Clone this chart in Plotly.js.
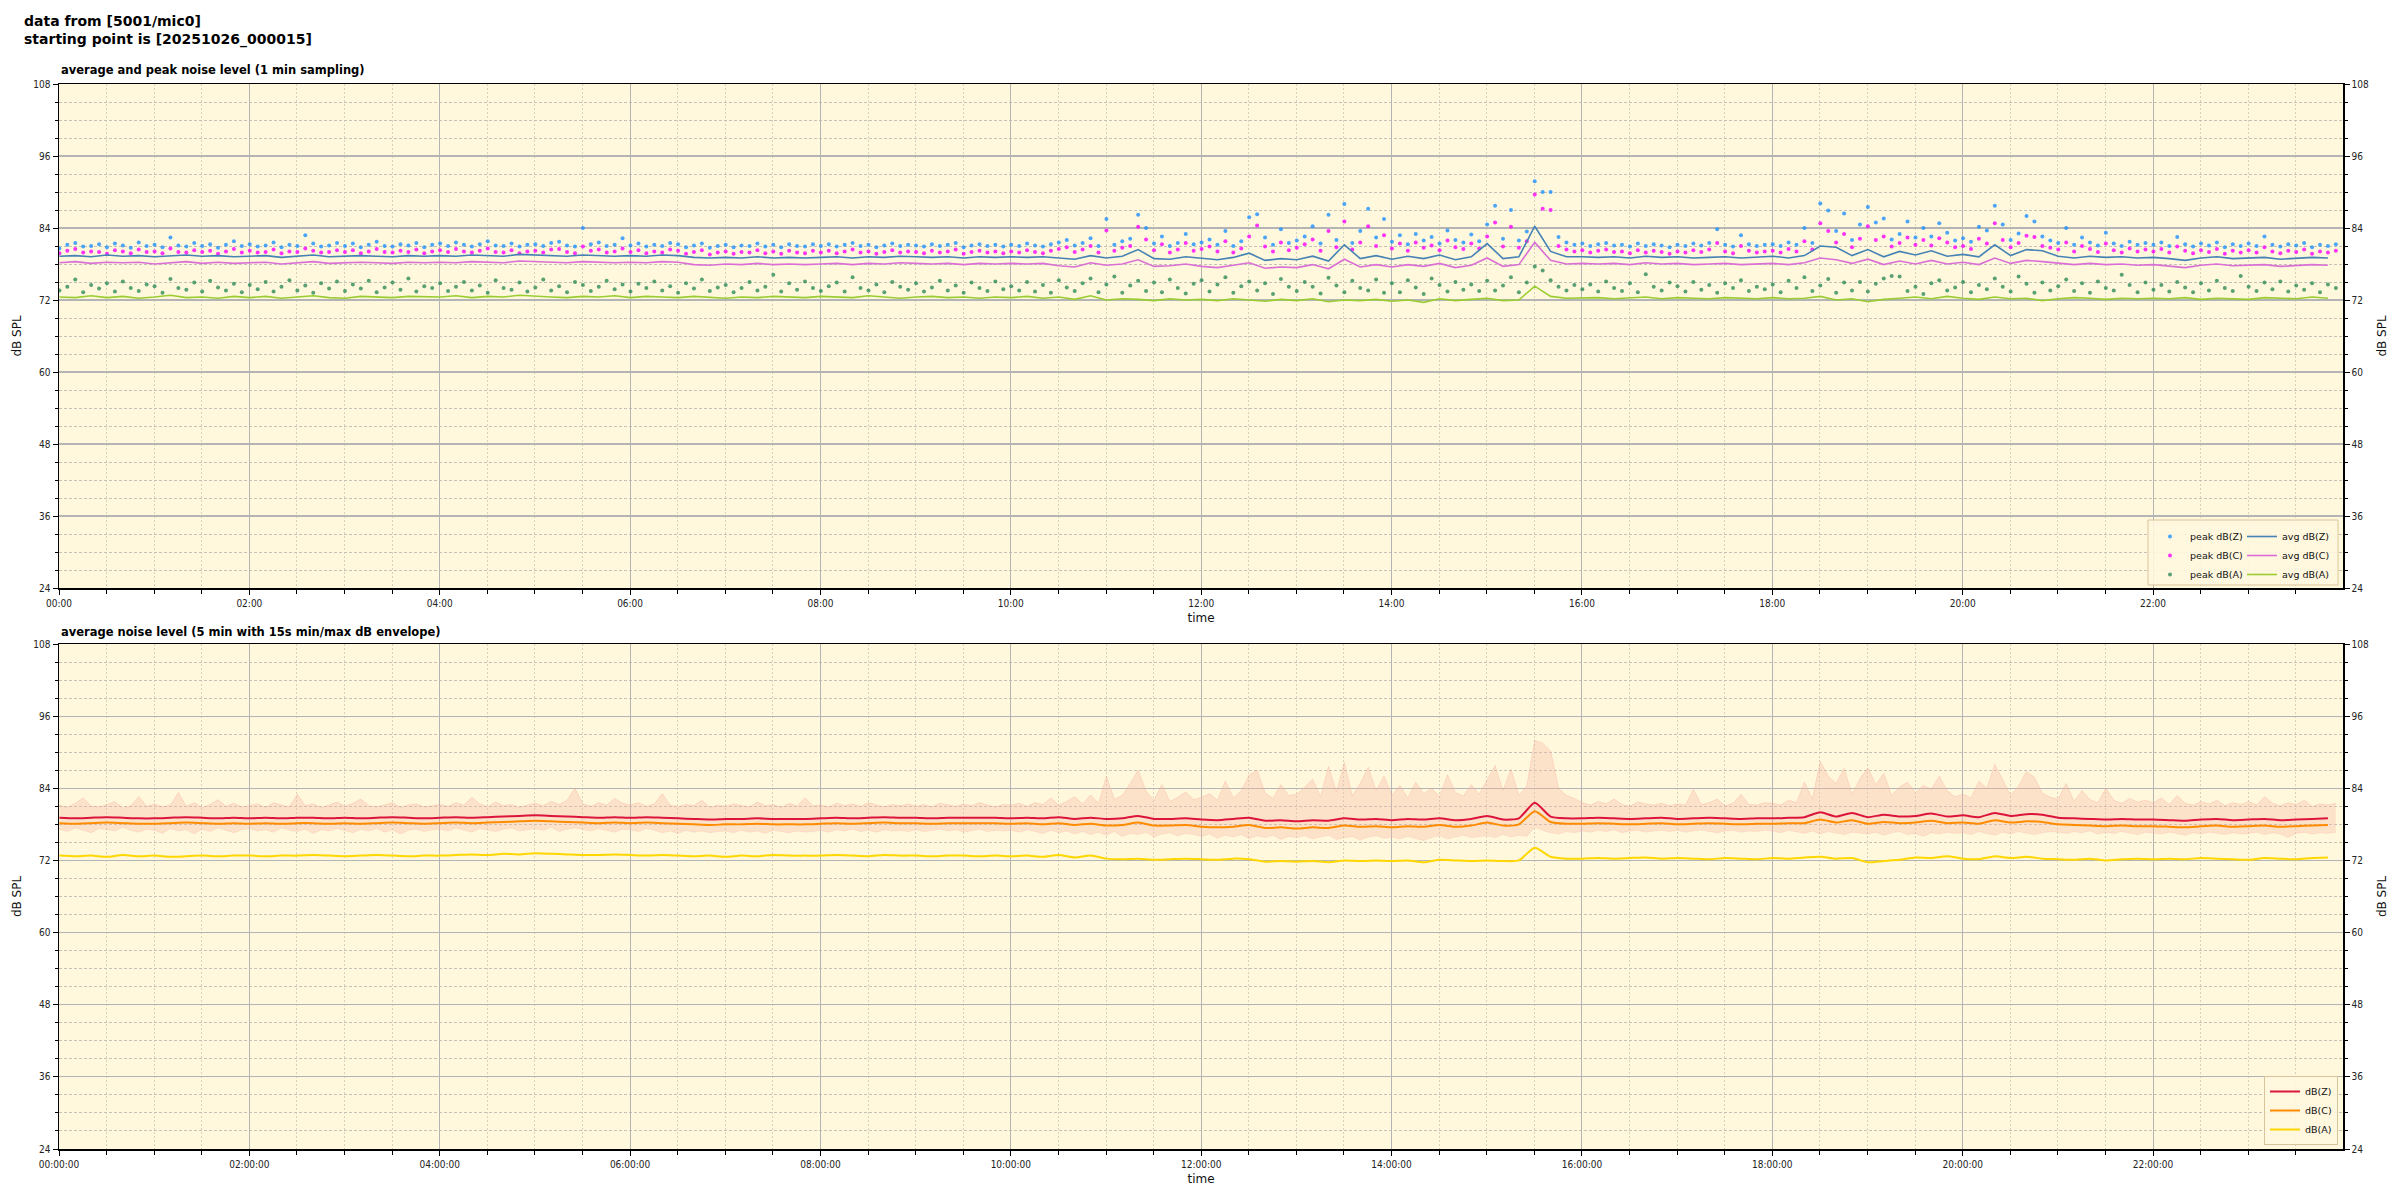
<!DOCTYPE html>
<html>
<head>
<meta charset="utf-8">
<script src="https://cdn.plot.ly/plotly-3.0.1.min.js"></script>
<style>html,body{margin:0;padding:0;background:#fff;}#chart{width:2400px;height:1200px;}</style>
</head>
<body>
<div id="chart"></div>
<script>
// ---------- data ----------
// top plot: 10-min averages (144 values, 00:00 -> 23:50)
const avgZ = [
79.3,79.4,79.2,79.5,79.3,79.4,79.2,79.3,79.5,79.3,79.4,79.2,
79.3,79.4,79.1,79.3,79.5,79.2,79.3,79.4,79.3,79.2,79.4,79.3,
79.4,79.3,79.5,79.4,79.3,79.6,79.5,79.4,79.3,79.5,79.4,79.3,
79.4,79.3,79.5,79.4,79.1,79.0,79.1,79.0,79.2,79.0,79.1,79.0,
79.1,79.2,79.0,79.2,79.1,79.3,79.2,79.1,79.2,79.0,79.2,79.1,
79.2,79.1,79.2,79.0,78.8,79.4,79.0,79.3,80.4,78.9,78.8,79.2,
78.9,78.7,79.1,79.8,78.6,78.9,78.7,79.3,78.5,81.2,78.9,79.4,
78.8,79.3,78.9,79.5,78.7,79.2,81.4,78.9,79.2,84.3,80.1,79.2,
79.2,79.1,79.2,79.0,79.3,79.1,79.2,79.0,79.1,79.2,79.0,79.1,
79.3,79.0,79.4,81.0,80.8,79.4,80.4,79.2,80.1,79.5,80.2,79.3,
79.6,79.2,81.2,79.4,80.4,80.2,79.3,79.0,79.3,79.1,79.2,79.0,
79.1,78.9,78.6,79.0,79.2,78.9,79.0,79.1,78.8,79.0,79.1,79.0];
const avgC = [
78.2,78.4,78.1,78.3,78.2,78.3,78.0,78.2,78.4,78.1,78.3,78.1,
78.2,78.3,78.0,78.2,78.4,78.1,78.2,78.3,78.2,78.1,78.3,78.2,
78.3,78.2,78.4,78.3,78.2,78.5,78.4,78.3,78.2,78.4,78.3,78.2,
78.3,78.2,78.4,78.3,77.9,77.8,78.0,77.9,78.1,77.9,78.0,77.9,
78.0,78.1,77.9,78.1,78.0,78.2,78.1,78.0,78.1,77.9,78.1,78.0,
78.1,78.0,78.1,77.7,77.5,78.2,77.8,78.0,78.7,77.6,77.7,78.0,
77.6,77.4,77.8,78.2,77.3,77.5,77.4,77.9,77.2,78.8,77.5,77.9,
77.5,77.9,77.6,78.1,77.4,77.8,79.0,77.6,77.9,81.6,78.6,78.0,
78.1,78.0,78.1,77.9,78.2,78.0,78.1,77.9,78.0,78.1,77.9,78.0,
78.1,77.9,78.2,79.0,78.7,78.1,78.8,77.9,78.5,78.0,78.6,78.0,
78.3,77.9,79.0,78.1,78.6,78.4,78.1,77.9,78.1,77.9,78.0,77.8,
77.9,77.7,77.4,77.8,78.0,77.7,77.8,77.9,77.6,77.8,77.9,77.8];
const avgA = [
72.5,72.4,72.7,72.4,72.6,72.3,72.5,72.8,72.4,72.5,72.3,72.6,
72.4,72.6,72.3,72.5,72.7,72.4,72.3,72.6,72.5,72.4,72.6,72.5,
72.5,72.7,72.4,72.6,72.5,72.8,72.6,72.5,72.4,72.6,72.5,72.7,
72.4,72.6,72.5,72.4,72.6,72.5,72.3,72.5,72.4,72.6,72.5,72.4,
72.6,72.5,72.4,72.7,72.5,72.3,72.5,72.6,72.4,72.5,72.3,72.5,
72.4,72.6,72.3,72.5,72.1,72.7,72.0,72.2,72.1,71.9,72.2,72.0,
72.1,71.9,72.2,72.0,71.8,72.1,71.9,72.2,71.7,72.0,71.9,72.1,
71.8,72.0,71.6,72.2,71.9,72.1,72.3,71.9,72.0,74.3,72.6,72.3,
72.3,72.4,72.2,72.3,72.5,72.2,72.4,72.3,72.2,72.4,72.3,72.2,
72.4,72.2,72.3,72.6,72.0,72.2,71.7,72.1,72.3,72.5,72.2,72.6,
72.3,72.1,72.5,72.2,72.3,71.9,72.2,72.4,72.3,72.1,72.3,72.2,
72.3,72.2,72.4,72.1,72.3,72.2,72.1,72.4,72.3,72.2,72.5,72.3];

// top plot: peaks every 5 min (288 values, one row per hour)
const peakZ = [
80.6,81.2,81.5,80.9,81.0,81.3,80.8,81.4,81.1,80.7,81.6,81.0,
81.2,80.8,82.4,81.1,80.9,81.5,81.0,81.3,80.7,81.2,81.8,81.0,
81.3,80.9,81.1,81.6,80.8,81.2,81.0,82.8,81.4,80.9,81.1,81.5,
81.0,81.4,80.8,81.2,81.7,81.0,80.9,81.3,81.1,81.5,80.8,81.2,
81.4,81.0,81.6,81.2,80.9,81.3,81.8,81.1,81.0,81.4,80.9,81.2,
81.3,81.0,81.5,81.7,81.1,80.9,84.0,81.3,81.6,81.0,81.2,82.3,
81.1,81.4,80.9,81.2,81.0,81.5,81.3,80.8,81.1,81.4,80.7,81.0,
81.2,80.8,81.1,81.0,81.4,80.9,81.2,80.8,81.3,81.0,80.9,81.3,
81.0,81.3,80.9,81.2,81.5,81.0,81.2,80.8,81.1,81.4,81.0,81.2,
81.1,80.9,81.3,81.0,81.2,81.5,80.8,81.1,81.3,81.0,81.2,80.9,
81.2,81.0,81.4,81.1,80.9,81.3,81.6,82.0,81.1,81.5,82.3,81.0,
85.5,81.2,81.8,82.2,86.2,84.0,81.4,82.6,81.0,81.5,83.0,81.3,
81.6,82.1,81.2,83.5,81.0,81.8,85.8,86.3,82.4,81.2,83.8,81.5,
81.9,82.6,84.3,81.4,86.2,82.0,88.0,81.5,83.5,87.2,82.4,85.5,
81.7,82.8,81.3,83.0,81.9,82.5,81.4,83.6,82.0,81.6,82.9,81.8,
84.6,87.7,82.2,87.0,81.9,83.4,91.8,90.0,90.0,82.5,81.6,81.2,
81.4,81.0,81.3,81.5,81.1,81.2,80.9,81.4,81.0,81.3,81.1,80.8,
81.2,81.0,81.4,81.1,81.5,83.8,81.2,80.9,82.8,81.3,81.0,81.2,
81.3,81.0,81.6,81.2,84.0,81.5,88.1,86.9,83.5,86.4,82.0,84.6,
87.5,84.9,85.6,82.1,83.0,85.1,82.4,84.0,82.6,84.8,83.2,81.9,
82.3,81.7,84.2,83.6,87.7,84.6,82.0,83.1,86.0,85.1,82.6,81.9,
81.5,84.0,81.2,82.4,81.6,81.1,83.2,81.4,81.0,81.7,81.2,81.5,
81.2,81.6,81.0,82.5,81.3,80.9,81.4,81.1,81.6,80.8,81.3,81.0,
81.4,81.0,82.6,81.2,80.9,81.3,81.1,81.5,80.8,81.2,81.0,81.3];
const peakC = [
79.8,80.2,80.5,79.9,80.1,80.0,79.7,80.3,80.1,79.8,80.4,80.0,
80.1,79.8,80.6,80.0,79.9,80.3,80.0,80.2,79.7,80.1,80.5,79.9,
80.2,79.9,80.0,80.4,79.8,80.1,80.0,80.6,80.2,79.9,80.0,80.3,
80.0,80.3,79.8,80.1,80.5,80.0,79.9,80.2,80.0,80.4,79.8,80.1,
80.3,80.0,80.5,80.1,79.9,80.2,80.6,80.0,79.9,80.3,79.8,80.1,
80.2,79.9,80.4,80.5,80.0,79.8,80.9,80.2,80.4,79.9,80.1,80.6,
80.0,80.3,79.8,80.1,79.9,80.4,80.2,79.7,80.0,80.3,79.6,79.9,
80.1,79.7,80.0,79.9,80.3,79.8,80.1,79.7,80.2,79.9,79.8,80.2,
79.9,80.2,79.8,80.1,80.4,79.9,80.1,79.7,80.0,80.3,79.9,80.1,
80.0,79.8,80.2,79.9,80.1,80.4,79.7,80.0,80.2,79.9,80.1,79.8,
80.1,79.9,80.3,80.0,79.8,80.2,80.5,80.8,80.0,80.4,81.0,79.9,
83.6,80.2,80.7,81.0,84.2,82.1,80.3,81.3,79.9,80.4,81.5,80.2,
80.5,80.9,80.1,81.8,79.9,80.6,82.6,84.4,80.9,80.1,81.6,80.3,
80.7,81.3,82.1,80.2,83.5,80.8,85.1,80.4,81.6,84.3,81.0,82.8,
80.6,81.4,80.2,81.6,80.7,81.1,80.3,81.9,80.8,80.5,81.4,80.6,
82.6,84.9,80.9,84.2,80.7,81.8,89.6,87.2,87.0,81.0,80.4,80.1,
80.3,79.9,80.2,80.4,80.0,80.1,79.8,80.3,79.9,80.2,80.0,79.7,
80.1,79.9,80.3,80.0,80.4,81.5,80.1,79.8,81.0,80.2,79.9,80.1,
80.2,79.9,80.5,80.1,81.8,80.4,84.8,83.5,81.6,83.0,80.8,82.2,
84.3,82.0,82.6,80.9,81.5,82.4,81.2,82.0,81.1,82.3,81.6,80.8,
81.0,80.5,82.2,81.4,84.8,82.0,80.8,81.5,82.7,82.5,81.0,80.7,
80.4,81.6,80.1,81.0,80.5,80.0,81.4,80.3,79.9,80.6,80.1,80.4,
80.1,80.5,79.9,80.9,80.2,79.8,80.3,80.0,80.5,79.7,80.2,79.9,
80.3,79.9,80.8,80.1,79.8,80.2,80.0,80.4,79.7,80.1,79.9,80.2];
const peakA = [
73.6,74.2,75.4,73.3,74.5,73.9,74.8,73.4,75.1,74.0,73.5,74.6,
74.3,73.2,75.5,74.0,73.7,74.9,73.4,75.2,74.1,73.6,74.7,73.3,
74.5,73.8,75.0,73.4,74.2,75.3,73.6,74.4,73.2,74.8,73.9,75.1,
73.5,74.6,73.9,75.2,73.3,74.1,74.9,73.7,75.6,73.4,74.3,74.0,
74.8,73.5,74.2,75.0,73.6,74.4,73.2,75.3,74.0,73.7,74.9,73.4,
74.1,75.4,73.6,74.3,73.3,75.0,74.5,73.5,74.2,75.2,73.8,74.6,
73.4,74.7,74.0,75.1,73.6,74.3,73.2,74.8,73.9,75.4,73.5,74.1,
74.5,73.3,74.0,75.0,73.6,74.2,76.2,73.4,74.8,73.7,75.1,74.0,
73.5,74.3,74.9,73.4,75.8,74.0,73.6,74.6,73.3,75.0,74.2,73.7,
74.8,73.4,74.1,75.2,73.6,74.4,73.2,74.9,74.0,73.5,75.1,73.8,
74.3,73.6,75.0,73.4,74.5,73.2,75.3,74.1,73.5,74.8,75.6,73.3,
74.6,75.9,73.2,74.4,75.2,73.5,74.9,73.3,75.4,74.0,73.1,74.7,
75.3,73.4,74.6,75.8,73.2,74.3,75.1,73.6,74.8,73.0,75.5,74.2,
73.5,75.0,74.2,73.1,75.7,74.4,73.3,75.2,74.0,73.6,75.4,73.2,
74.8,73.3,75.3,74.1,73.0,75.6,74.5,73.4,75.0,73.7,74.6,73.5,
75.2,73.6,74.4,75.8,73.3,74.9,77.6,76.9,75.3,74.2,73.6,74.5,
73.8,74.6,73.4,75.1,74.0,73.5,74.8,73.3,76.3,74.2,73.6,74.9,
74.3,73.4,75.0,73.7,74.5,73.2,74.8,74.0,75.3,73.5,74.2,73.8,
74.6,73.3,75.2,74.0,75.8,73.5,74.4,75.5,73.2,74.9,73.6,75.0,
73.4,74.7,75.6,76.0,75.9,73.5,74.2,73.0,74.8,75.3,73.6,74.1,
75.0,73.3,74.5,73.8,75.6,74.2,73.4,75.9,74.7,73.2,74.9,73.6,
74.3,75.4,73.5,74.8,73.2,75.1,74.0,73.6,76.2,74.5,73.3,74.9,
73.7,74.5,73.4,75.0,74.1,73.3,74.8,73.6,75.2,74.0,73.5,76.0,
74.2,73.5,74.9,73.8,75.1,73.4,74.4,73.7,74.8,73.3,74.6,74.0];

// bottom plot: 5-min averages, sampled every 10 min (144 values)
const levelZ = [
79.1,79.0,79.1,79.2,79.1,79.0,79.0,79.1,79.2,79.1,79.0,79.1,
79.0,79.1,79.0,79.1,79.1,79.0,79.1,79.0,79.1,79.2,79.1,79.0,
79.1,79.2,79.1,79.2,79.3,79.4,79.5,79.4,79.3,79.2,79.1,79.2,
79.1,79.2,79.1,79.0,78.9,78.8,78.9,78.9,79.0,78.9,78.9,78.9,
79.0,79.1,79.0,79.1,79.2,79.1,79.1,79.0,79.1,79.1,79.1,79.1,
79.0,79.1,79.0,79.2,78.9,79.1,78.9,79.0,79.4,78.9,78.9,79.0,
78.8,78.7,78.9,79.1,78.6,78.7,78.5,78.7,78.6,79.0,78.8,78.9,
78.7,78.9,78.8,79.0,78.7,78.9,79.4,78.8,79.0,81.6,79.3,79.0,
79.0,79.1,79.0,78.9,79.0,79.1,78.9,79.0,79.1,79.0,78.9,79.0,
79.0,79.1,79.2,80.0,79.3,79.9,79.2,79.6,79.3,79.4,79.8,79.3,
79.5,79.2,79.9,79.4,79.7,79.6,79.1,79.0,78.9,78.8,78.9,78.8,
78.8,78.7,78.6,78.8,78.9,78.7,78.8,78.9,78.7,78.8,78.9,79.0];
const levelC = [
78.2,78.1,78.2,78.3,78.2,78.1,78.1,78.2,78.3,78.2,78.1,78.2,
78.1,78.2,78.1,78.2,78.2,78.1,78.2,78.1,78.2,78.3,78.2,78.1,
78.2,78.3,78.2,78.3,78.4,78.5,78.6,78.5,78.4,78.3,78.2,78.3,
78.2,78.3,78.2,78.1,78.0,77.9,78.0,78.0,78.1,78.0,78.0,78.0,
78.1,78.2,78.1,78.2,78.3,78.2,78.2,78.1,78.2,78.2,78.2,78.2,
78.1,78.2,78.0,78.2,77.9,78.1,77.8,77.9,78.3,77.8,77.8,77.9,
77.6,77.5,77.6,77.9,77.4,77.5,77.3,77.5,77.4,77.8,77.6,77.7,
77.5,77.7,77.6,77.9,77.6,77.8,78.3,77.8,78.0,80.2,78.4,78.1,
78.1,78.2,78.1,78.0,78.1,78.2,78.0,78.1,78.2,78.1,78.0,78.1,
78.1,78.2,78.2,78.8,78.3,78.7,78.1,78.4,78.2,78.3,78.6,78.2,
78.3,78.1,78.7,78.3,78.5,78.4,78.0,77.9,77.8,77.7,77.8,77.7,
77.7,77.6,77.5,77.7,77.8,77.6,77.7,77.8,77.6,77.7,77.8,77.9];
const levelA = [
72.8,72.7,72.8,72.6,72.9,72.7,72.8,72.6,72.7,72.8,72.7,72.8,
72.8,72.7,72.8,72.8,72.9,72.8,72.7,72.8,72.9,72.8,72.7,72.8,
72.8,72.9,73.0,72.9,73.1,73.0,73.2,73.1,73.0,72.9,72.9,73.0,
72.9,72.8,72.9,72.8,72.7,72.8,72.6,72.8,72.7,72.9,72.8,72.8,
72.8,72.9,72.8,72.7,72.9,72.8,72.8,72.7,72.8,72.8,72.7,72.8,
72.7,72.8,72.6,72.9,72.5,72.8,72.3,72.2,72.3,72.1,72.2,72.3,
72.2,72.1,72.3,72.2,71.8,71.9,71.8,71.9,71.7,72.0,71.9,72.0,
71.9,72.0,71.7,72.1,72.0,71.9,72.0,71.9,72.0,74.1,72.6,72.3,
72.3,72.4,72.3,72.4,72.5,72.3,72.4,72.3,72.2,72.4,72.3,72.2,
72.4,72.3,72.5,72.6,72.3,72.4,71.7,71.9,72.1,72.5,72.4,72.7,
72.3,72.2,72.7,72.4,72.6,72.3,72.2,72.1,72.3,72.0,72.2,72.3,
72.2,72.3,72.2,72.4,72.3,72.2,72.1,72.4,72.3,72.2,72.4,72.5];

// bottom plot: 15 s max / min envelope, summarised every 5 min (288 values)
const envMax = [
81.2,80.8,81.5,82.4,81.0,80.9,81.3,81.8,80.7,81.1,82.6,81.0,
81.4,80.9,81.2,83.3,81.0,81.6,80.8,81.3,82.1,81.0,81.5,80.9,
81.1,81.4,80.8,81.6,81.2,80.9,83.0,81.1,81.4,80.8,81.2,81.7,
81.0,81.5,82.2,81.1,80.9,81.3,81.6,80.8,81.2,81.4,80.9,81.1,
81.3,81.0,81.6,81.2,82.5,81.4,80.9,81.7,81.1,81.3,80.8,81.2,
81.5,81.1,81.8,81.3,82.0,84.0,81.4,81.0,81.6,81.2,82.3,81.5,
81.2,81.6,81.0,81.4,83.1,81.2,80.9,81.3,81.1,82.0,80.8,81.2,
81.0,81.4,81.2,80.9,81.7,81.1,81.3,80.8,81.5,81.0,82.4,81.1,
81.2,80.9,81.5,81.1,81.4,81.0,81.6,81.2,80.9,81.3,81.1,81.4,
81.0,81.3,80.9,81.5,81.2,81.0,81.4,81.1,81.6,81.2,80.9,81.3,
81.2,81.5,81.0,81.6,81.3,82.4,81.2,81.8,82.6,81.4,82.9,81.5,
86.0,82.2,82.8,84.8,87.0,83.5,82.0,84.6,81.8,82.5,83.4,82.1,
82.5,83.1,82.0,85.2,82.4,83.6,86.2,87.0,83.2,82.3,84.6,82.8,
83.0,84.2,85.5,82.6,87.6,83.4,88.3,82.7,84.8,87.5,83.6,86.0,
82.8,84.5,82.4,85.0,83.1,84.0,82.6,86.2,83.3,82.7,84.6,83.0,
85.5,87.8,83.6,87.2,82.8,84.4,92.0,91.5,90.2,84.0,82.8,82.3,
81.6,81.2,81.8,81.4,82.2,81.3,81.0,81.7,81.4,81.2,81.5,81.1,
81.4,81.2,83.8,81.3,81.6,82.2,81.1,81.5,83.0,81.3,81.2,81.6,
81.5,81.2,82.0,81.6,85.0,82.2,88.5,86.0,84.8,87.3,83.0,85.6,
87.4,84.6,86.5,82.8,84.2,85.0,83.3,84.5,83.8,86.0,83.6,82.6,
83.0,82.4,85.2,84.0,88.0,85.4,82.8,84.4,86.8,85.8,83.2,82.5,
82.2,84.8,81.8,83.6,82.1,81.6,84.0,82.0,81.5,82.3,81.7,82.0,
81.6,82.4,81.3,82.8,81.5,81.2,81.8,81.4,82.0,81.1,81.6,81.3,
81.8,81.2,82.6,81.5,81.1,81.6,81.3,82.0,81.0,81.4,81.2,81.5];
const envMin = [
77.2,76.8,77.4,77.0,76.6,77.3,77.1,76.9,77.5,77.0,76.7,77.2,
77.0,76.5,77.3,76.9,77.1,76.4,77.2,76.8,77.4,77.0,76.6,77.1,
77.3,76.9,77.1,76.7,77.4,77.0,76.8,77.2,76.5,77.1,76.9,77.3,
77.0,76.6,77.2,76.9,77.3,76.7,77.1,76.4,77.0,77.2,76.8,77.1,
77.2,76.9,77.4,77.0,76.7,77.3,77.1,76.8,77.2,77.4,76.9,77.1,
77.3,77.0,77.5,76.8,77.2,77.4,77.1,76.9,77.3,77.0,76.7,77.2,
77.1,76.8,77.3,77.0,76.6,76.9,76.5,77.0,76.7,76.9,76.6,76.8,
76.9,76.6,77.0,76.7,76.9,76.5,77.0,76.8,76.6,76.9,76.7,76.8,
77.0,76.7,77.1,76.9,77.2,76.8,77.0,76.7,77.1,76.9,77.0,76.8,
77.1,76.8,77.0,77.2,76.9,77.1,76.7,77.0,77.2,76.8,77.0,76.9,
77.0,76.7,77.1,76.8,76.5,77.0,76.6,76.9,76.4,76.8,76.3,76.7,
76.2,76.8,76.0,76.5,76.3,76.7,75.9,76.4,76.6,76.1,76.5,76.3,
76.0,76.4,75.7,76.2,75.9,76.3,75.6,76.1,75.8,76.2,75.5,76.0,
75.8,76.1,75.6,75.9,76.2,75.5,75.8,76.0,75.4,75.9,76.1,75.7,
75.9,75.6,76.0,75.7,75.3,75.8,76.1,75.6,75.9,76.2,75.8,76.0,
76.1,75.8,76.3,75.9,76.2,76.0,77.5,77.0,76.6,76.4,76.8,76.6,
76.9,76.7,77.0,76.8,77.1,76.6,76.9,77.0,76.7,76.9,77.0,76.8,
77.0,76.7,76.9,77.1,76.8,76.6,76.9,77.0,76.7,76.9,76.8,77.0,
76.9,76.6,77.0,76.8,76.5,76.9,76.4,76.8,76.6,76.3,76.7,76.5,
76.4,76.7,76.2,76.6,76.8,76.3,76.5,76.0,76.6,76.4,76.7,76.5,
76.6,76.3,76.8,76.5,76.2,76.7,76.4,76.8,76.5,76.3,76.6,76.8,
76.7,76.5,76.8,76.6,76.9,76.4,76.7,76.5,76.8,76.6,76.3,76.7,
76.6,76.4,76.7,76.5,76.2,76.6,76.4,76.7,76.5,76.3,76.6,76.4,
76.5,76.7,76.3,76.6,76.4,75.8,76.5,76.7,76.4,76.6,76.5,76.7];

const yTickVals = [24, 36, 48, 60, 72, 84, 96, 108];
const seriesNames = {peakZ: 'peak dB(Z)', peakC: 'peak dB(C)', peakA: 'peak dB(A)',
                     avgZ: 'avg dB(Z)', avgC: 'avg dB(C)', avgA: 'avg dB(A)'};
const levelNames = ['dB(Z)', 'dB(C)', 'dB(A)'];

// ---------- sample times ----------
function times(n, stepMin) {
  const t0 = Date.UTC(2025, 9, 26, 0, 0, 15);
  const out = [];
  for (let i = 0; i < n; i++) {
    out.push(new Date(t0 + i * stepMin * 60000).toISOString().slice(0, 19).replace('T', ' '));
  }
  return out;
}
const t10 = times(144, 10);
const t5 = times(288, 5);

// ---------- geometry (paper fractions) ----------
const W = 2400, H = 1200;
const px = v => v / W, py = v => 1 - v / H;
const XDOM = [px(59), px(2343)];
const TOPDOM = [py(588), py(84)];
const BOTDOM = [py(1149), py(644)];

const tickFont = {family: 'Liberation Sans Narrow, DejaVu Sans Condensed, sans-serif', size: 10, color: '#222'};
const titleFont = {family: 'DejaVu Sans, sans-serif', size: 12, color: '#111'};
const BG = '#fff8dc';

function xAxis(anchor, fmt) {
  return {
    type: 'date', domain: XDOM, anchor: anchor,
    range: ['2025-10-26 00:00:00', '2025-10-26 23:59:45'],
    tick0: '2025-10-26 00:00:00', dtick: 7200000, tickformat: fmt,
    ticks: 'outside', ticklen: 5, tickcolor: '#000', tickfont: tickFont,
    showline: true, linecolor: '#000', linewidth: 1.5, mirror: true,
    showgrid: true, gridcolor: '#b4b4b4', gridwidth: 1,
    minor: {dtick: 1800000, ticks: 'outside', ticklen: 4, tickcolor: '#000',
            showgrid: true, gridcolor: '#d6d2c0', griddash: '2px,2px', gridwidth: 1},
    zeroline: false, automargin: false,
    title: {text: 'time', font: titleFont, standoff: 6}
  };
}
function yAxis(dom, anchor, side, overlay, grid) {
  const a = {
    domain: dom, anchor: anchor, side: side, range: [24, 108],
    tickvals: yTickVals, ticks: 'outside', ticklen: 5, tickcolor: '#000', tickfont: tickFont,
    showline: true, linecolor: '#000', linewidth: 1.5,
    showgrid: grid, gridcolor: '#b4b4b4', gridwidth: 1.2,
    minor: {dtick: 3, tick0: 24, ticks: 'outside', ticklen: 3, tickcolor: '#000',
            showgrid: grid, gridcolor: '#c4c2b8', griddash: '3px,2px', gridwidth: 1},
    zeroline: false, automargin: false, fixedrange: true,
    title: {text: 'dB SPL', font: titleFont, standoff: 9}
  };
  if (overlay) a.overlaying = overlay;
  return a;
}

// ---------- traces ----------
const traces = [];
const dot = (name, y, color) => ({
  type: 'scatter', mode: 'markers', name: name, x: t5, y: y,
  xaxis: 'x', yaxis: 'y', legend: 'legend',
  marker: {color: color, size: 4, opacity: 0.8, line: {width: 0}}
});
traces.push(dot(seriesNames.peakZ, peakZ, '#1e90ff'));
traces.push(dot(seriesNames.peakC, peakC, '#ff00ff'));
traces.push(dot(seriesNames.peakA, peakA, '#2e8b57'));
const avgLine = (name, y, color) => ({
  type: 'scatter', mode: 'lines', name: name, x: t10, y: y,
  xaxis: 'x', yaxis: 'y', legend: 'legend2',
  line: {color: color, width: 1.6}
});
traces.push(avgLine(seriesNames.avgZ, avgZ, '#4682b4'));
traces.push(avgLine(seriesNames.avgC, avgC, '#da70d6'));
traces.push(avgLine(seriesNames.avgA, avgA, '#9acd32'));
// right-hand axis of the top plot
traces.push({type: 'scatter', mode: 'markers', x: [t10[0]], y: [null], xaxis: 'x', yaxis: 'y3',
             showlegend: false, hoverinfo: 'skip'});

// bottom: envelope
traces.push({type: 'scatter', mode: 'lines', x: t5, y: envMin, xaxis: 'x2', yaxis: 'y2',
             line: {color: 'rgba(245,170,150,0.3)', width: 0.8}, showlegend: false, hoverinfo: 'skip'});
traces.push({type: 'scatter', mode: 'lines', x: t5, y: envMax, xaxis: 'x2', yaxis: 'y2',
             fill: 'tonexty', fillcolor: 'rgba(248,180,165,0.32)',
             line: {color: 'rgba(245,165,145,0.4)', width: 0.8}, showlegend: false, hoverinfo: 'skip'});
const lvl = (name, y, color) => ({
  type: 'scatter', mode: 'lines', name: name, x: t10, y: y,
  xaxis: 'x2', yaxis: 'y2', legend: 'legend3',
  line: {color: color, width: 2, shape: 'spline', smoothing: 0.6}
});
traces.push(lvl(levelNames[0], levelZ, '#dc143c'));
traces.push(lvl(levelNames[1], levelC, '#ff8c00'));
traces.push(lvl(levelNames[2], levelA, '#ffd700'));
traces.push({type: 'scatter', mode: 'markers', x: [t10[0]], y: [null], xaxis: 'x2', yaxis: 'y4',
             showlegend: false, hoverinfo: 'skip'});

// ---------- layout ----------
const legendFont = {family: 'DejaVu Sans, sans-serif', size: 9.5, color: '#111'};
const layout = {
  width: W, height: H,
  margin: {l: 0, r: 0, t: 0, b: 0, autoexpand: false},
  paper_bgcolor: '#ffffff', plot_bgcolor: BG,
  font: {family: 'DejaVu Sans, sans-serif', color: '#111'},
  title: {text: '<b>data from [5001/mic0]<br>starting point is [20251026_000015]</b>',
          x: px(24), xanchor: 'left', xref: 'paper', y: py(26), yanchor: 'middle',
          font: {family: 'DejaVu Sans, sans-serif', size: 14, color: '#000'}},
  xaxis: xAxis('y', '%H:%M'),
  yaxis: yAxis(TOPDOM, 'x', 'left', null, true),
  yaxis3: yAxis(TOPDOM, 'x', 'right', 'y', false),
  xaxis2: xAxis('y2', '%H:%M:%S'),
  yaxis2: yAxis(BOTDOM, 'x2', 'left', null, true),
  yaxis4: yAxis(BOTDOM, 'x2', 'right', 'y2', false),
  showlegend: true,
  legend: {x: px(2150), xanchor: 'left', y: py(522), yanchor: 'top', bgcolor: 'rgba(0,0,0,0)',
           borderwidth: 0, font: legendFont, itemwidth: 30, tracegroupgap: 0, traceorder: 'normal'},
  legend2: {x: px(2242), xanchor: 'left', y: py(522), yanchor: 'top', bgcolor: 'rgba(0,0,0,0)',
            borderwidth: 0, font: legendFont, itemwidth: 30, tracegroupgap: 0, traceorder: 'normal'},
  legend3: {x: px(2338), xanchor: 'right', y: py(1145), yanchor: 'bottom',
            bgcolor: 'rgba(255,246,222,0.9)', bordercolor: '#d8c49c', borderwidth: 1,
            font: legendFont, itemwidth: 30, traceorder: 'normal'},
  shapes: [{type: 'rect', xref: 'paper', yref: 'paper', x0: px(2148), x1: px(2338), y0: py(585), y1: py(520),
            fillcolor: 'rgba(255,246,222,0.9)', line: {color: '#d8c49c', width: 1}, layer: 'above'}],
  annotations: [
    {text: '<b>average and peak noise level (1 min sampling)</b>', xref: 'paper', yref: 'paper',
     x: px(59), y: py(70), xanchor: 'left', yanchor: 'middle', showarrow: false,
     font: {family: 'DejaVu Sans, sans-serif', size: 11.5, color: '#000'}},
    {text: '<b>average noise level (5 min with 15s min/max dB envelope)</b>', xref: 'paper', yref: 'paper',
     x: px(59), y: py(632), xanchor: 'left', yanchor: 'middle', showarrow: false,
     font: {family: 'DejaVu Sans, sans-serif', size: 11.5, color: '#000'}}
  ]
};

Plotly.newPlot('chart', traces, layout, {staticPlot: true, displayModeBar: false});
</script>
</body>
</html>
